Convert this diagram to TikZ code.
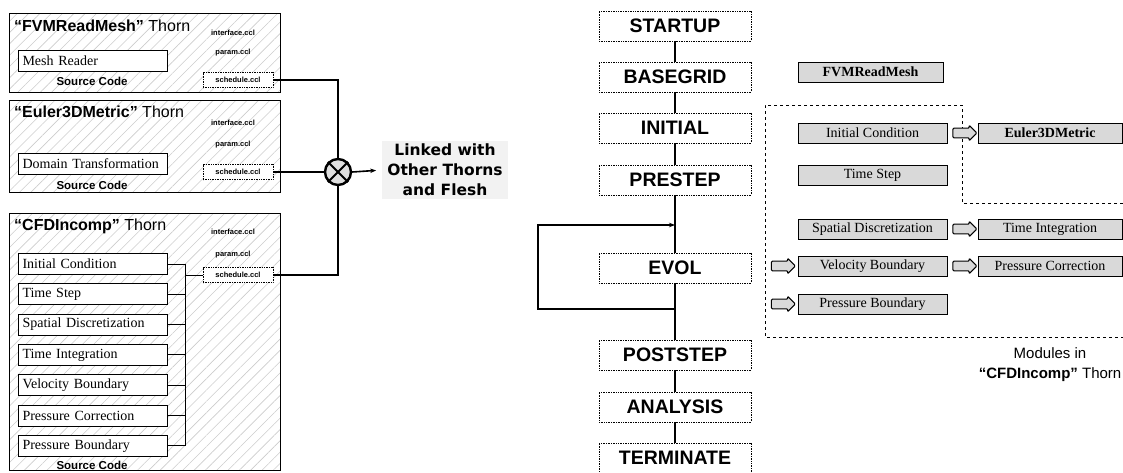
\documentclass[tikz,border=0pt]{standalone}
\usepackage{fontspec}
\setmainfont{Liberation Serif}
\setsansfont{Liberation Sans}
\newfontfamily\verdana{DejaVu Sans}
\usetikzlibrary{positioning,shapes.arrows,patterns.meta,arrows.meta}

\begin{document}
\begin{tikzpicture}[x=1pt, y=-1pt,
  thorn/.style={draw, line width=1pt, pattern={Lines[angle=45,distance=8pt,line width=0.6pt]}, pattern color=gray!40},
  thorntitle/.style={anchor=west, inner sep=0pt, font=\sffamily\fontsize{16}{18}\selectfont},
  cclfile/.style={inner sep=1pt, font=\sffamily\bfseries\fontsize{7.5}{8}\selectfont},
  schedbox/.style={cclfile, draw, densely dotted, line width=0.7pt, fill=white, minimum width=70pt, minimum height=15pt},
  srcbox/.style={draw, line width=1pt, fill=white, anchor=north west, minimum height=21pt, inner xsep=4pt, inner ysep=0pt, text width=141pt, align=left, font=\fontsize{14}{16}\selectfont},
  srclabel/.style={inner sep=1pt, font=\sffamily\bfseries\fontsize{11.5}{13}\selectfont},
  bus/.style={line width=1pt},
  link/.style={line width=1.6pt},
  stage/.style={draw, densely dotted, line width=0.7pt, minimum width=152pt, minimum height=30pt, inner sep=0pt, font=\sffamily\bfseries\fontsize{19.5}{22}\selectfont},
  flow/.style={line width=1.3pt},
  module/.style={draw, line width=1pt, fill=gray!30, minimum height=20pt, inner sep=0pt, font=\fontsize{14}{16}\selectfont},
  blockarrow/.style={single arrow, draw, fill=gray!30, line width=1pt, minimum height=24pt, inner sep=4.3pt, single arrow head extend=3pt, rounded corners=1pt}]
  \useasboundingbox (0,0) rectangle (1123,472);

  % FVMReadMesh thorn
  \draw[thorn] (9,13) rectangle (280,92);
  \node[thorntitle] (fvmT) at (14,26) {\textbf{“FVMReadMesh”} Thorn};
  \node[cclfile] (fvmI) at (233,33) {interface.ccl};
  \node[cclfile] (fvmP) at (233,53) {param.ccl};
  \node[schedbox] (fvmS) at (238,80) {schedule.ccl};
  \node[srcbox] (mesh) at (18,50) {Mesh Reader};
  \node[srclabel] (fvmSrc) at (92,81) {Source Code};

  % Euler3DMetric thorn
  \draw[thorn] (9,100) rectangle (280,192);
  \node[thorntitle] (eulT) at (14,112) {\textbf{“Euler3DMetric”} Thorn};
  \node[cclfile] (eulI) at (233,123) {interface.ccl};
  \node[cclfile] (eulP) at (233,145) {param.ccl};
  \node[schedbox] (eulS) at (238,172) {schedule.ccl};
  \node[srcbox] (domain) at (18,153) {Domain Transformation};
  \node[srclabel] (eulSrc) at (92,185) {Source Code};

  % CFDIncomp thorn
  \draw[thorn] (9,213) rectangle (280,470);
  \node[thorntitle] (cfdT) at (14,226) {\textbf{“CFDIncomp”} Thorn};
  \node[cclfile] (cfdI) at (233,232) {interface.ccl};
  \node[cclfile] (cfdP) at (233,255) {param.ccl};
  \node[schedbox] (cfdS) at (238,275) {schedule.ccl};
  \foreach \name/\txt [count=\i from 0] in {initc/Initial Condition, tstep/Time Step,
      spatial/Spatial Discretization, tinteg/Time Integration, velb/Velocity Boundary,
      pcorr/Pressure Correction, presb/Pressure Boundary}
    \node[srcbox] (\name) at (18,253+30.3*\i) {\txt};
  \node[srclabel] (cfdSrc) at (92,465) {Source Code};
  \coordinate (busTop) at (185,263.5);
  \coordinate (busBot) at (185,445.5);
  \foreach \name in {initc,tstep,spatial,tinteg,velb,pcorr,presb}
    \draw[bus] (\name.east) -- (\name.east -| busTop);
  \draw[bus] (busTop) -- (busBot);
  \draw[bus] (cfdS.west -| busTop) -- (cfdS.west);

  % linking
  \node[draw, circle, line width=2.4pt, minimum size=26pt, inner sep=0pt, fill=gray!25] (join) at (338,172) {};
  \draw[line width=2pt] (join.north west) -- (join.south east);
  \draw[line width=2pt] (join.north east) -- (join.south west);
  \draw[link] (fvmS.east) -| (join.north);
  \draw[link] (eulS.east) -- (join.west);
  \draw[link] (cfdS.east) -| (join.south);
  \node[align=center, fill=gray!10, inner xsep=5pt, font=\verdana\bfseries\fontsize{15.5}{20}\selectfont] (linked) at (445,170) {Linked with\\Other Thorns\\and Flesh};
  \draw[link, -{Stealth[length=6pt]}, shorten >=6pt] (join.east) -- (linked.west);

  % schedule bins
  \node[stage] (startup) at (675,26) {STARTUP};
  \node[stage] (basegrid) at (675,77) {BASEGRID};
  \node[stage] (initial) at (675,128) {INITIAL};
  \node[stage] (prestep) at (675,180) {PRESTEP};
  \node[stage] (evol) at (675,268) {EVOL};
  \node[stage] (poststep) at (675,355) {POSTSTEP};
  \node[stage] (analysis) at (675,407) {ANALYSIS};
  \node[stage] (terminate) at (675,458) {TERMINATE};
  \draw[flow] (startup) -- (basegrid);
  \draw[flow] (basegrid) -- (initial);
  \draw[flow] (initial) -- (prestep);
  \draw[flow] (prestep) -- (evol);
  \draw[flow] (evol) -- (poststep);
  \draw[flow] (poststep) -- (analysis);
  \draw[flow] (analysis) -- (terminate);
  \coordinate (loopTop) at (675,225);
  \coordinate (loopBot) at (675,309);
  \draw[flow, -{Stealth[length=6pt]}] (loopBot) -- ++(-137,0) |- (loopTop);

  % modules
  \node[module, minimum width=145pt] (fvmM) at (870.5,72) {\textbf{FVMReadMesh}};
  \draw[dashed, line width=0.7pt] (1123,203) -- (962,203) -- (962,105) -- (765,105) -- (765,337) -- (1123,337);
  \node[module, minimum width=149pt] (initM) at (872.5,133) {Initial Condition};
  \node[module, minimum width=144pt] (eulM) at (1050,133) {\textbf{Euler3DMetric}};
  \node[module, minimum width=149pt] (tstepM) at (872.5,175) {Time Step};
  \node[module, minimum width=149pt] (spatialM) at (872.5,229) {Spatial Discretization};
  \node[module, minimum width=144pt] (tintegM) at (1050,229) {Time Integration};
  \node[module, minimum width=149pt] (velbM) at (872.5,266) {Velocity Boundary};
  \node[module, minimum width=144pt] (pcorrM) at (1050,266) {Pressure Correction};
  \node[module, minimum width=149pt] (presbM) at (872.5,304) {Pressure Boundary};
  \node[blockarrow] (arrA) at (962.5,133) {};
  \node[blockarrow] (arrB) at (962.5,229) {};
  \node[blockarrow] (arrC) at (962.5,266) {};
  \node[blockarrow] (arrD) at (781,266) {};
  \node[blockarrow] (arrE) at (781,304) {};
  \node[align=center, font=\sffamily\fontsize{15}{20}\selectfont] (modlbl) at (1050,365) {Modules in\\\textbf{“CFDIncomp”} Thorn};
\end{tikzpicture}
\end{document}
